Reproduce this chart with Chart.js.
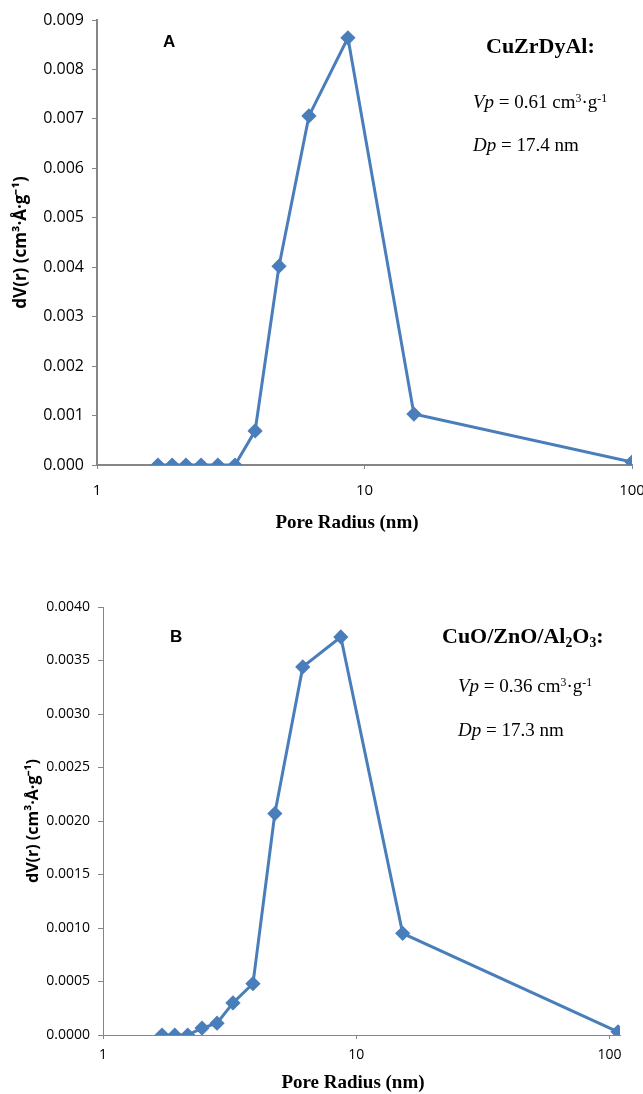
<!DOCTYPE html>
<html>
<head>
<meta charset="utf-8">
<script src="https://cdn.jsdelivr.net/npm/chart.js@4.4.0/dist/chart.umd.min.js"></script>
<style>
  body { margin: 0; background: #fff; }
  #wrap { position: relative; width: 643px; height: 1094px; }
  .box { position: absolute; left: 0; width: 643px; height: 547px; }
  .note { position: absolute; white-space: nowrap; line-height: 1; color: #000; }
  .serif { font-family: "Liberation Serif", "DejaVu Serif", serif; }
  .tag { font-family: "Liberation Sans", Arial, sans-serif; font-weight: bold; font-size: 17px; }
  .eixoX { font-family: "Liberation Serif", serif; font-weight: bold; font-size: 19px; width: 200px; text-align: center; }
  .up { font-size: 0.62em; position: relative; top: -0.55em; }
  .dn { font-size: 0.62em; position: relative; top: 0.3em; }
</style>
</head>
<body>
<div id="wrap">
  <div class="box" style="top:0"><canvas id="graficoA" width="643" height="547"></canvas></div>
  <div class="box" style="top:547px"><canvas id="graficoB" width="643" height="547"></canvas></div>

  <div class="note tag" style="left:163px; top:33px">A</div>
  <div class="note serif" style="left:486px; top:35px; font-size:22px; font-weight:bold">CuZrDyAl:</div>
  <div class="note serif" style="left:473px; top:92px; font-size:19px"><i>Vp</i> = 0.61 cm<span class="up">3</span>·g<span class="up">-1</span></div>
  <div class="note serif" style="left:473px; top:135px; font-size:19px"><i>Dp</i> = 17.4 nm</div>
  <div class="note eixoX" style="left:247px; top:512px">Pore Radius (nm)</div>

  <div class="note tag" style="left:170px; top:628px">B</div>
  <div class="note serif" style="left:442px; top:625px; font-size:22px; font-weight:bold">CuO/ZnO/Al<span class="dn">2</span>O<span class="dn">3</span>:</div>
  <div class="note serif" style="left:458px; top:676px; font-size:19px"><i>Vp</i> = 0.36 cm<span class="up">3</span>·g<span class="up">-1</span></div>
  <div class="note serif" style="left:458px; top:720px; font-size:19px"><i>Dp</i> = 17.3 nm</div>
  <div class="note eixoX" style="left:253px; top:1072px">Pore Radius (nm)</div>
</div>
<script>
// pore radius (nm) and dV(r)
const radiusA = [1.69, 1.91, 2.15, 2.45, 2.83, 3.28, 3.90, 4.79, 6.20, 8.67, 15.3, 100];
const dvA = [0, 0, 0, 0, 0, 0, 0.00069, 0.00402, 0.00706, 0.00864, 0.00103, 0.00006];

const radiusB = [1.71, 1.92, 2.16, 2.46, 2.82, 3.26, 3.91, 4.77, 6.15, 8.69, 15.25, 108];
const dvB = [0, 0, 0, 0.000065, 0.00011, 0.0003, 0.00048, 0.00207, 0.00344, 0.00372, 0.00095, 0.00003];

const xTicks = [1, 10, 100];
const yTicksA = [0, 0.001, 0.002, 0.003, 0.004, 0.005, 0.006, 0.007, 0.008, 0.009];
const yTicksB = [0, 0.0005, 0.001, 0.0015, 0.002, 0.0025, 0.003, 0.0035, 0.004];

const azul = '#4a7ebb';
const cinza = '#868686';
const tituloY = 'dV(r) (cm³·Å·g⁻¹)';

function grafico(id, rx, dv, yTicks, casas, cfg) {
  const pontos = rx.map((r, i) => ({ x: r, y: dv[i] }));
  new Chart(document.getElementById(id).getContext('2d'), {
    type: 'line',
    data: {
      datasets: [{
        data: pontos,
        borderColor: azul,
        backgroundColor: azul,
        borderWidth: 3,
        pointStyle: 'rectRot',
        pointRadius: 5.5,
        pointHoverRadius: 5.5,
        tension: 0
      }]
    },
    options: {
      responsive: false,
      animation: false,
      events: [],
      layout: { padding: { top: cfg.top, right: cfg.right, left: 0, bottom: 0 } },
      plugins: { legend: { display: false }, tooltip: { enabled: false } },
      scales: {
        x: {
          type: 'logarithmic',
          min: 1,
          max: cfg.xmax,
          afterBuildTicks: (s) => { s.ticks = xTicks.map(v => ({ value: v })); },
          afterFit: (s) => { s.height = cfg.xh; s.paddingLeft = 0; s.paddingRight = 0; },
          ticks: {
            autoSkip: false, maxRotation: 0, padding: cfg.xpad,
            color: '#000', font: { family: 'Open Sans', size: cfg.xfs },
            callback: (v) => String(v)
          },
          grid: { drawOnChartArea: false, tickLength: 4, tickColor: cinza },
          border: { color: cinza, width: cfg.eixo }
        },
        y: {
          min: 0,
          max: yTicks[yTicks.length - 1],
          afterBuildTicks: (s) => { s.ticks = yTicks.map(v => ({ value: v })); },
          afterFit: (s) => { s.width = cfg.yw; },
          ticks: {
            padding: 8, color: '#000', font: { family: 'Open Sans', size: cfg.yfs },
            callback: (v) => Number(v).toFixed(casas)
          },
          grid: { drawOnChartArea: false, tickLength: 5, tickColor: cinza },
          border: { color: cinza, width: cfg.eixo },
          title: {
            display: true, text: tituloY, color: '#000',
            font: { family: 'Open Sans', size: cfg.ttfs, weight: 'bold', lineHeight: 1 },
            padding: { top: cfg.ytp, bottom: 0 }
          }
        }
      }
    }
  });
}

grafico('graficoA', radiusA, dvA, yTicksA, 3,
  { top: 20, right: 11, xmax: 100, xh: 82, xpad: 13, xfs: 15, yw: 97, yfs: 16, ttfs: 17, ytp: 13, eixo: 2 });
grafico('graficoB', radiusB, dvB, yTicksB, 4,
  { top: 60, right: 23, xmax: 110, xh: 59, xpad: 8, xfs: 14, yw: 103, yfs: 14, ttfs: 16, ytp: 25, eixo: 1 });
</script>
</body>
</html>
